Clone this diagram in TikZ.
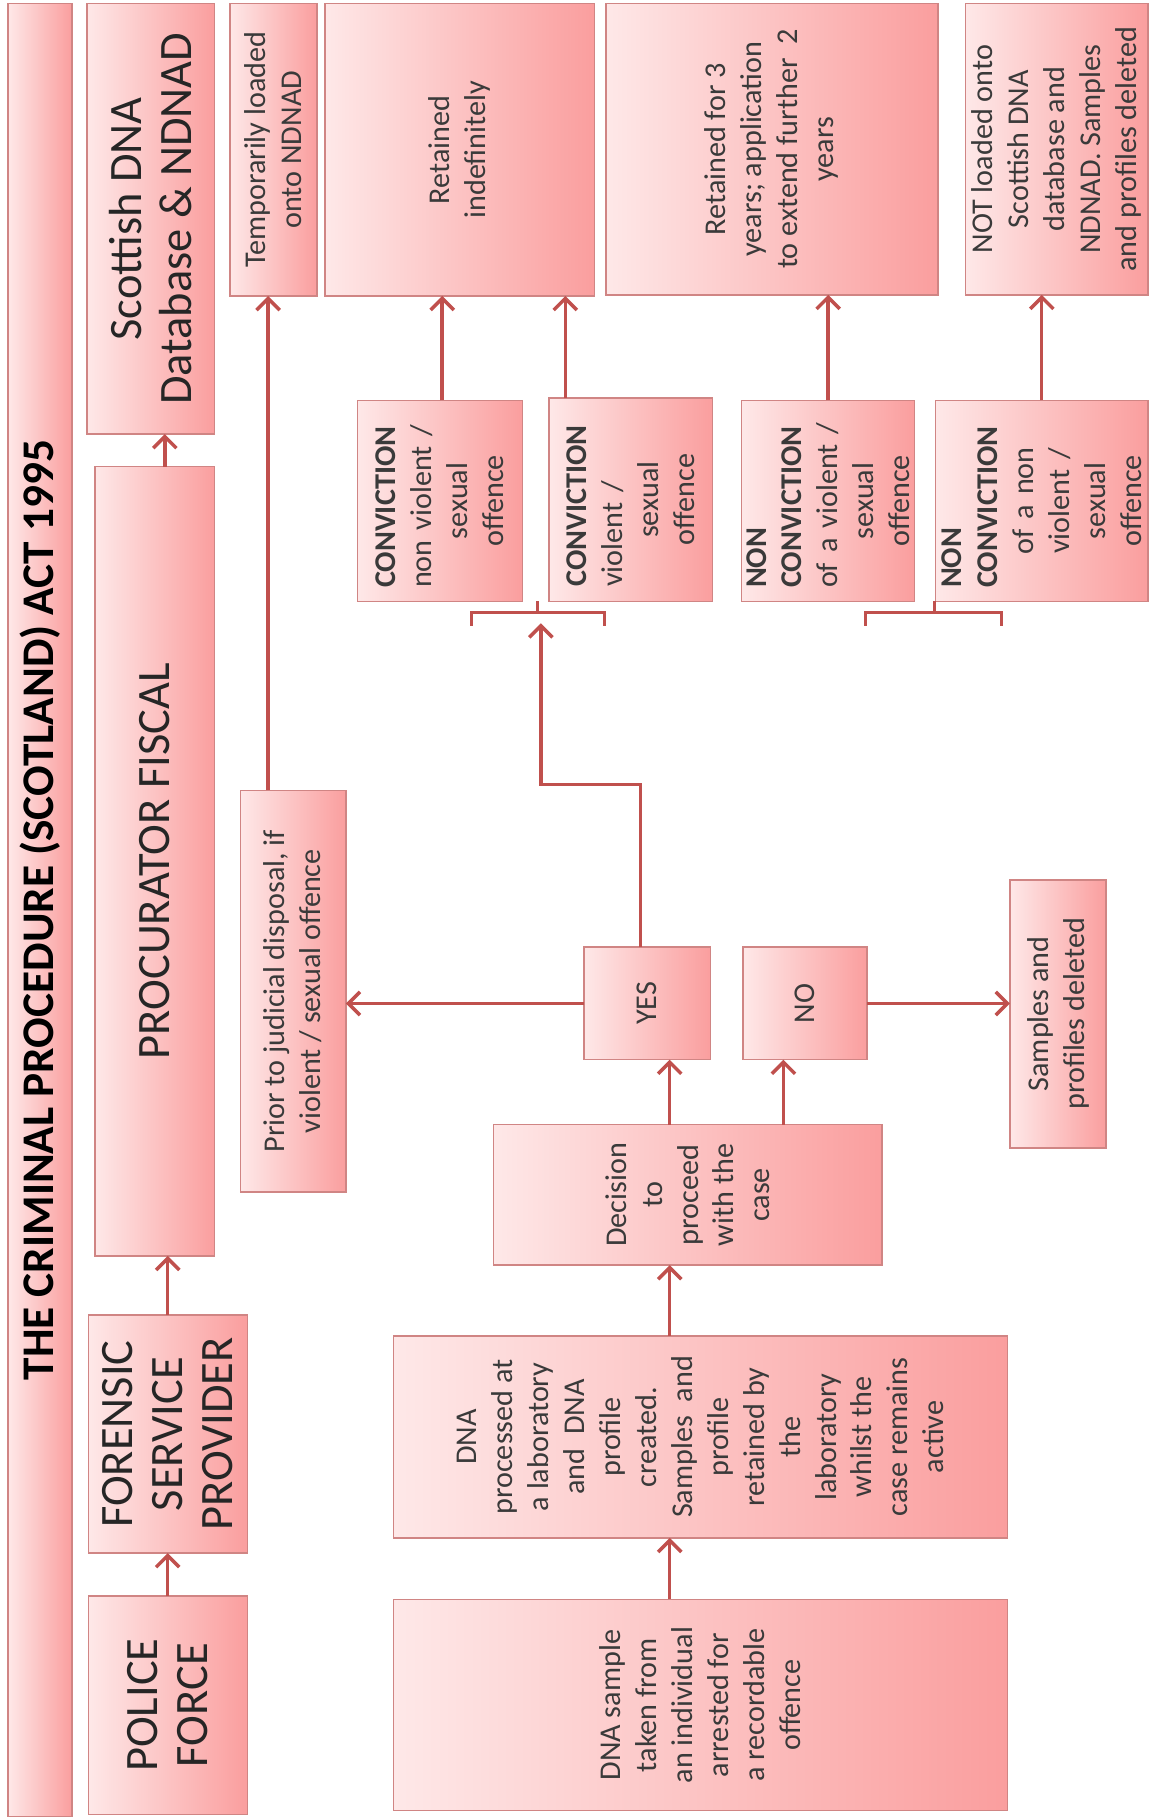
\documentclass[tikz,border=0pt]{standalone}
\usepackage{fontspec}
\setmainfont{Carlito}
\usetikzlibrary{arrows.meta}
\definecolor{lnred}{HTML}{C0504D}
\definecolor{bord}{HTML}{D08584}
\definecolor{fl}{HTML}{FEE8E8}
\definecolor{fr}{HTML}{FA9E9E}
\definecolor{txtc}{HTML}{3A3A3A}
\newcommand\smallf{\fontsize{13}{15.5}\selectfont}
\newcommand\bigf{\fontsize{20}{21.5}\selectfont}
\newcommand\titlef{\fontsize{19.5}{22}\selectfont\bfseries}
\newcommand\ctr[1]{\hspace*{\fill}#1\hspace*{\fill}\null}
% name, left, right, top, bottom (in reference pixels)
\newcommand\bbox[5]{\node[bx, minimum width={(#3-#2)*0.5pt}, minimum height={(#5-#4)*0.5pt}] (#1) at ({(#2+#3)/2},{-(#4+#5)/2}) {};}
\tikzset{
  bx/.style={draw=bord, line width=0.6pt, left color=fl, right color=fr, inner sep=0pt, outer sep=0pt},
  tx/.style={rotate=90, align=center, inner sep=0pt, text=txtc, font=\smallf},
  convtx/.style={tx, align=left, text width=75pt},
  big/.style={font=\bigf, text=black!85},
  conn/.style={draw=lnred, line width=1.5pt, -{Straight Barb[length=5pt,width=10pt]}},
  ln/.style={draw=lnred, line width=1.3pt},
}
\begin{document}
\begin{tikzpicture}[x=0.5pt,y=0.5pt]
\useasboundingbox (0,0) rectangle (992,-1568);
% boxes
\bbox{title}{7}{62}{3}{1565}
\bbox{scot}{75}{185}{3}{374}
\bbox{pf}{82}{185}{402}{1082}
\bbox{forensic}{76}{213}{1133}{1338}
\bbox{police}{76}{213}{1375}{1563}
\bbox{temp}{198}{273}{3}{255}
\bbox{retind}{280}{512}{3}{255}
\bbox{ret3}{522}{808}{3}{254}
\bbox{notload}{832}{989}{3}{254}
\bbox{c1}{308}{450}{345}{518}
\bbox{c2}{473}{614}{343}{518}
\bbox{nc1}{639}{788}{345}{518}
\bbox{nc2}{806}{989}{345}{518}
\bbox{prior}{207}{298}{681}{1027}
\bbox{yes}{503}{612}{816}{913}
\bbox{no}{640}{747}{816}{913}
\bbox{deleted}{870}{953}{758}{989}
\bbox{decision}{425}{760}{969}{1090}
\bbox{dnaproc}{339}{868}{1151}{1325}
\bbox{dnasample}{339}{868}{1378}{1560}
% texts
\node[tx, font=\titlef, text=black] (title-t) at (title) {THE CRIMINAL PROCEDURE (SCOTLAND) ACT 1995};
\node[tx, big] (scot-t) at (scot) {Scottish DNA\\Database \& NDNAD};
\node[tx, big] (pf-t) at (pf) {PROCURATOR FISCAL};
\node[tx, big] (forensic-t) at (forensic) {FORENSIC\\SERVICE\\PROVIDER};
\node[tx, big] (police-t) at (police) {POLICE\\FORCE};
\node[tx] (temp-t) at (temp) {Temporarily loaded\\onto NDNAD};
\node[tx] (retind-t) at (retind) {Retained\\indefinitely};
\node[tx] (ret3-t) at (ret3) {Retained for 3\\years; application\\to extend further~~2\\years};
\node[tx] (notload-t) at (notload) {NOT loaded onto\\Scottish DNA\\database and\\NDNAD. Samples\\and profiles deleted};
\node[convtx] (c1-t) at (c1) {\textbf{CONVICTION}\\non violent /\\\ctr{sexual}\\\ctr{offence}};
\node[convtx] (c2-t) at (c2) {\textbf{CONVICTION}\\violent /\\\ctr{sexual}\\\ctr{offence}};
\node[convtx] (nc1-t) at (nc1) {\textbf{NON}\\\textbf{CONVICTION}\\of a violent /\\\ctr{sexual}\\\ctr{offence}};
\node[convtx] (nc2-t) at (nc2) {\textbf{NON}\\\textbf{CONVICTION}\\\ctr{of a non}\\\ctr{violent /}\\\ctr{sexual}\\\ctr{offence}};
\node[tx] (prior-t) at (prior) {Prior to judicial disposal, if\\violent / sexual offence};
\node[tx] (yes-t) at (yes) {YES};
\node[tx] (no-t) at (no) {NO};
\node[tx] (deleted-t) at (deleted) {Samples and\\profiles deleted};
\node[tx] (decision-t) at (decision) {Decision\\to\\proceed\\with the\\case};
\node[tx] (dnaproc-t) at (dnaproc) {DNA\\processed at\\a laboratory\\and~~DNA\\profile\\created.\\Samples~~and\\profile\\retained by\\the\\laboratory\\whilst the\\case remains\\active};
\node[tx] (dnasample-t) at (dnasample) {DNA sample\\taken from\\an individual\\arrested for\\a recordable\\offence};
% helper coordinates
\coordinate (x142) at (142,0);
\coordinate (x577) at (577,0);
\coordinate (x675) at (675,0);
\coordinate (x231) at (231,0);
\coordinate (x381) at (381,0);
\coordinate (x487) at (487,0);
\coordinate (k1) at (552,-676);
\coordinate (k2) at (466,-676);
\coordinate (b1tip) at (466,-537);
\coordinate (b1l) at (406,-539);
\coordinate (b1r) at (521,-539);
\coordinate (b1m) at (463,-528);
\coordinate (b2l) at (746,-539);
\coordinate (b2r) at (863,-539);
\coordinate (b2m) at (805,-528);
% connectors
\draw[conn] (police.north) -- (police.north |- forensic.south);
\draw[conn] (forensic.north) -- (forensic.north |- pf.south);
\draw[conn] (x142 |- pf.north) -- (x142 |- scot.south);
\draw[conn] (x577 |- dnasample.north) -- (x577 |- dnaproc.south);
\draw[conn] (x577 |- dnaproc.north) -- (x577 |- decision.south);
\draw[conn] (x577 |- decision.north) -- (x577 |- yes.south);
\draw[conn] (x675 |- decision.north) -- (x675 |- no.south);
\draw[conn] (yes.west) -- (yes.west -| prior.east);
\draw[conn] (no.east) -- (no.east -| deleted.west);
\draw[conn] (x231 |- prior.north) -- (x231 |- temp.south);
\draw[conn] (x381 |- c1.north) -- (x381 |- retind.south);
\draw[conn] (x487 |- c2.north) -- (x487 |- retind.south);
\draw[conn] (nc1.north) -- (nc1.north |- ret3.south);
\draw[conn] (nc2.north) -- (nc2.north |- notload.south);
\draw[conn] (k1 |- yes.north) -- (k1) -- (k2) -- (b1tip);
% brackets
\draw[ln] (b1l) -- (b1l |- b1m) -- (b1r |- b1m) -- (b1r);
\draw[ln] (b1m) -- (b1m |- c1.south);
\draw[ln] (b2l) -- (b2l |- b2m) -- (b2r |- b2m) -- (b2r);
\draw[ln] (b2m) -- (b2m |- nc1.south);
\end{tikzpicture}
\end{document}
